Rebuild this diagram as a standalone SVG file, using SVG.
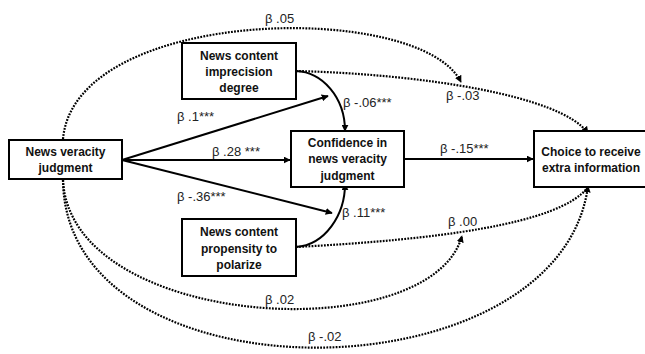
<svg xmlns="http://www.w3.org/2000/svg" width="645" height="354" viewBox="0 0 645 354">
<defs>
<style>
.box{fill:#fff;stroke:#000;stroke-width:2}
.nt{font-family:"Liberation Sans",Arial,sans-serif;font-weight:bold;font-size:12px;fill:#111;text-anchor:middle}
.lb{font-family:"Liberation Sans",Arial,sans-serif;font-size:13px;fill:#222}
.s{fill:none;stroke:#000;stroke-width:2}
.d{fill:none;stroke:#000;stroke-width:2.2;stroke-dasharray:1.8 1.3}
</style>
<marker id="ah" viewBox="0 0 10 10" refX="9" refY="5" markerWidth="7" markerHeight="7" markerUnits="userSpaceOnUse" orient="auto">
<path d="M0,0 L10,5 L0,10 z" fill="#000"/>
</marker>
</defs>
<rect width="645" height="354" fill="#fff"/>
<g id="connectors">
<line class="s" x1="122" y1="160" x2="328" y2="96" marker-end="url(#ah)"/>
<line class="s" x1="122" y1="160" x2="290" y2="160" marker-end="url(#ah)"/>
<line class="s" x1="122" y1="160" x2="332" y2="213" marker-end="url(#ah)"/>
<path class="s" d="M296,71 C322,72 345,97 345,131" marker-end="url(#ah)"/>
<path class="s" d="M296,247 C325,245 345,215 345,184" marker-end="url(#ah)"/>
<line class="s" x1="404" y1="159" x2="533" y2="159" marker-end="url(#ah)"/>
<path class="d" d="M63,139 C75,6 420,0 461,82" marker-end="url(#ah)"/>
<path class="d" d="M296,71 C420,74 560,95 588,133" marker-end="url(#ah)"/>
<path class="d" d="M63,180 C70,330 430,350 462,236" marker-end="url(#ah)"/>
<path class="d" d="M63,180 C65,405 560,400 588,186" marker-end="url(#ah)"/>
<path class="d" d="M296,247 C430,240 560,225 588,187"/>
</g>
<g id="n-veracity">
<rect class="box" x="9" y="140" width="113" height="39"/>
<text class="nt" x="65.5" y="156">News veracity</text>
<text class="nt" x="65.5" y="172">judgment</text>
</g>
<g id="n-imprecision">
<rect class="box" x="182" y="43" width="114" height="56"/>
<text class="nt" x="239" y="60">News content</text>
<text class="nt" x="239" y="76">imprecision</text>
<text class="nt" x="239" y="92">degree</text>
</g>
<g id="n-confidence">
<rect class="box" x="291" y="131" width="113" height="56"/>
<text class="nt" x="347.5" y="147">Confidence in</text>
<text class="nt" x="347.5" y="163">news veracity</text>
<text class="nt" x="347.5" y="180">judgment</text>
</g>
<g id="n-polarize">
<rect class="box" x="182" y="219" width="114" height="57"/>
<text class="nt" x="239" y="236">News content</text>
<text class="nt" x="239" y="253">propensity to</text>
<text class="nt" x="239" y="269">polarize</text>
</g>
<g id="n-choice">
<rect class="box" x="534" y="131" width="120" height="56"/>
<text class="nt" x="591" y="156">Choice to receive</text>
<text class="nt" x="591" y="172">extra information</text>
</g>
<g id="labels">
<text class="lb" x="265" y="23">β .05</text>
<text class="lb" x="177" y="121">β .1***</text>
<text class="lb" x="212" y="156">β .28 ***</text>
<text class="lb" x="343" y="107">β -.06***</text>
<text class="lb" x="446" y="100">β -.03</text>
<text class="lb" x="440" y="153">β -.15***</text>
<text class="lb" x="177" y="201">β -.36***</text>
<text class="lb" x="342" y="217">β .11***</text>
<text class="lb" x="448" y="226">β .00</text>
<text class="lb" x="265" y="304">β .02</text>
<text class="lb" x="308" y="341">β -.02</text>
</g>
</svg>
